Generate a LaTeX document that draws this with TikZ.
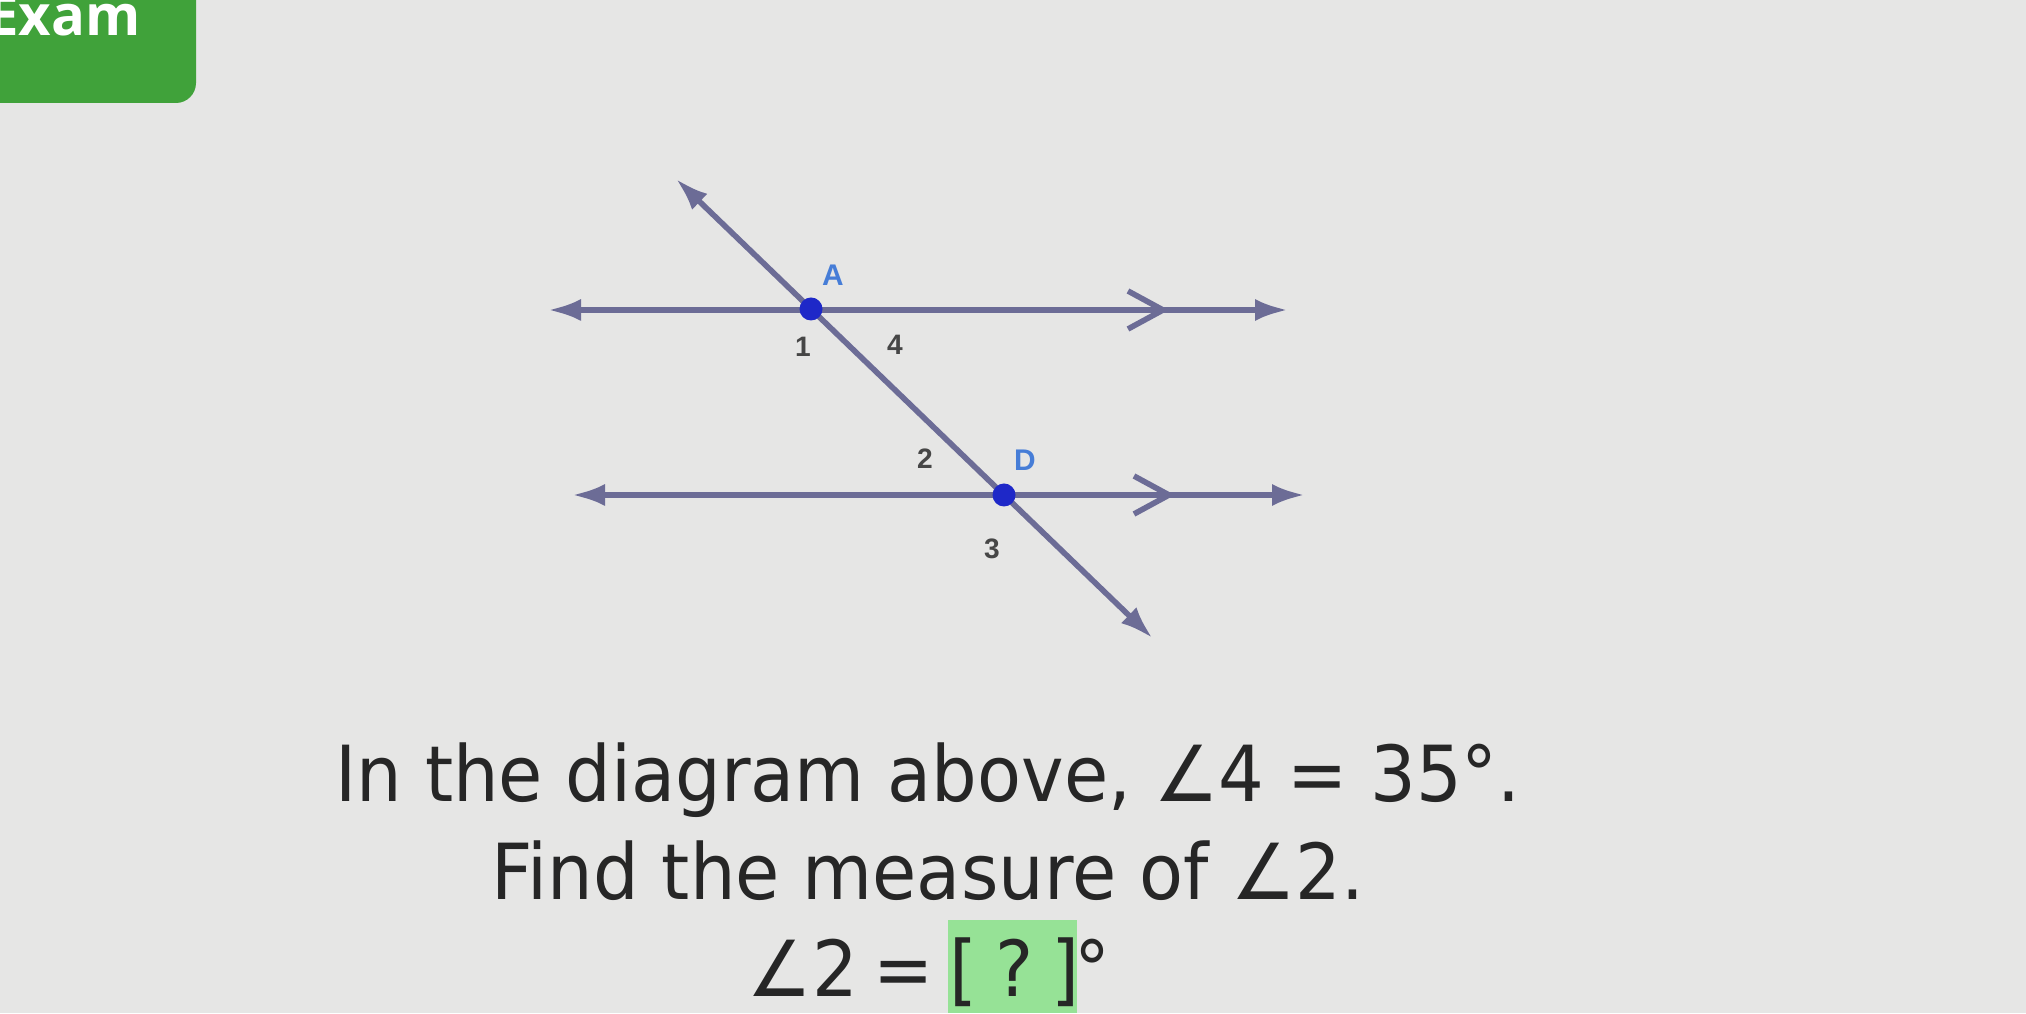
\documentclass[tikz,border=0pt]{standalone}
\usepackage{fontspec}
\setmainfont{DejaVu Sans}[FakeStretch=0.93]
\newfontfamily\labelfont{Liberation Sans}
\newfontfamily\examfont{Open Sans}
\usetikzlibrary{arrows.meta}
\usetikzlibrary{calc}
\definecolor{bgc}{RGB}{230,230,229}
\definecolor{linec}{RGB}{108,108,150}
\definecolor{dotc}{RGB}{30,40,200}
\definecolor{ptc}{RGB}{70,125,215}
\definecolor{numc}{RGB}{70,70,70}
\definecolor{examgreen}{RGB}{64,162,58}
\definecolor{ansgreen}{RGB}{150,226,150}
\newcommand{\ang}{∠}

\begin{document}
\begin{tikzpicture}
\tikzstyle{lineStyle} = [draw = linec, line width = 1.6pt, {Latex[length=3.3mm, width=2.2mm]}-{Latex[length=3.3mm, width=2.2mm]}]
\tikzstyle{markStyle} = [draw = linec, line width = 1.6pt]
\tikzstyle{dotStyle} = [shape = circle, minimum size = 2.3mm, inner sep = 0pt, fill = dotc]
\tikzstyle{pointStyle} = [text = ptc, font = \labelfont\bfseries\fontsize{8.5}{8.5}\selectfont]
\tikzstyle{numStyle} = [text = numc, font = \labelfont\bfseries\fontsize{8}{8}\selectfont]
\tikzstyle{textStyle} = [text = black!85, font = \fontsize{22}{22}\selectfont, anchor = base]
\useasboundingbox (0,0) rectangle (20.26,10.13);
\fill[bgc] (0,0) rectangle (20.26,10.13);
\fill[examgreen, rounded corners = 0.2cm] (-0.5,9.10) rectangle (1.96,10.6);
\node[text = white, font = \examfont\bfseries\fontsize{16}{16}\selectfont, anchor = base] (exam) at (0.64,9.77) {Exam};
\coordinate (A) at (8.11,7.04);
\coordinate (D) at (10.04,5.18);
\coordinate (a1) at (5.48,7.03);
\coordinate (a2) at (12.88,7.03);
\coordinate (d1) at (5.72,5.18);
\coordinate (d2) at (13.05,5.18);
\coordinate (t1) at ($(A)!-0.7!(D)$);
\coordinate (t2) at ($(A)!1.77!(D)$);
\coordinate (m1) at (11.63,7.03);
\coordinate (m2) at (11.69,5.18);
\draw[lineStyle] (a1) -- (a2);
\draw[lineStyle] (d1) -- (d2);
\draw[lineStyle] (t1) -- (t2);
\draw[markStyle] ([shift={(-0.35,0.19)}]m1) -- (m1) -- ([shift={(-0.35,-0.19)}]m1);
\draw[markStyle] ([shift={(-0.35,0.19)}]m2) -- (m2) -- ([shift={(-0.35,-0.19)}]m2);
\node[dotStyle] (vA) at (A) {};
\node[dotStyle] (vD) at (D) {};
\node[pointStyle] (lA) at (8.33,7.38) {A};
\node[pointStyle] (lD) at (10.25,5.53) {D};
\node[numStyle] (n1) at (8.03,6.66) {1};
\node[numStyle] (n4) at (8.95,6.68) {4};
\node[numStyle] (n2) at (9.25,5.54) {2};
\node[numStyle] (n3) at (9.92,4.64) {3};
\fill[ansgreen] (9.48,0) rectangle (10.77,0.93);
\node[textStyle] (q1) at (9.28,2.11) {In the diagram above, \ang4 = 35°.};
\node[textStyle] (q2) at (9.28,1.13) {Find the measure of \ang2.};
\node[textStyle] (q3) at (9.29,0.16) {\ang2 \hspace{-0.07cm}= \hspace{-0.07cm}[ \hspace{-0.05cm}? \hspace{-0.13cm}]\hspace{-0.05cm}°};
\end{tikzpicture}
\end{document}
